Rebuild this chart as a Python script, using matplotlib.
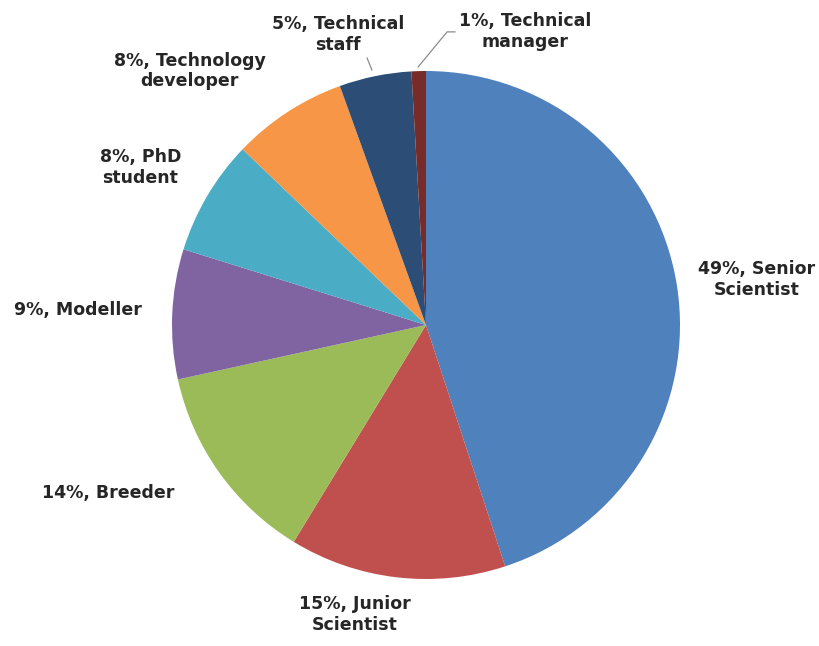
import matplotlib
matplotlib.use("Agg")
import matplotlib.pyplot as plt

# Share of respondents by role (labels state the rounded percentages)
roles = ["Senior\nScientist", "Junior\nScientist", "Breeder", "Modeller",
         "PhD\nstudent", "Technology\ndeveloper", "Technical\nstaff", "Technical\nmanager"]
percent = [49, 15, 14, 9, 8, 8, 5, 1]
colors = ["#4F81BD", "#C0504D", "#9BBB59", "#8064A2",
          "#4BACC6", "#F79646", "#2C4D75", "#772C2A"]

# Label anchor positions in pie units (centre at 0,0, radius 1)
label_xy = [(1.30, 0.18), (-0.28, -1.14), (-1.25, -0.66), (-1.37, 0.06),
            (-1.125, 0.62), (-0.93, 1.00), (-0.346, 1.145), (0.39, 1.155)]

fig = plt.figure(figsize=(8.2, 6.46), dpi=100)
ax = fig.add_axes([0, 0, 1, 1])
wedges, _ = ax.pie(percent, colors=colors, startangle=90, counterclock=False,
                   radius=1.0, wedgeprops=dict(linewidth=0))

for (x, y), role, p in zip(label_xy, roles, percent):
    first, *rest = role.split("\n")
    text = f"{p}%, {first}" + ("\n" + "\n".join(rest) if rest else "")
    ax.text(x, y, text, ha="center", va="center", fontsize=12.5,
            family="DejaVu Sans", fontweight="bold", color="#262626",
            linespacing=1.2)

# Leader lines for the two small slices at the top
ax.plot([-0.213, -0.232], [1.004, 1.051], color="#8c8c8c", lw=0.9)
ax.plot([-0.031, 0.083, 0.114], [1.016, 1.154, 1.154], color="#8c8c8c", lw=0.9)

ax.set_xlim(-426 / 254, 394 / 254)
ax.set_ylim(-321 / 254, 325 / 254)
ax.set_aspect("equal")
ax.axis("off")
fig.savefig("out.png", dpi=100, facecolor="white")
